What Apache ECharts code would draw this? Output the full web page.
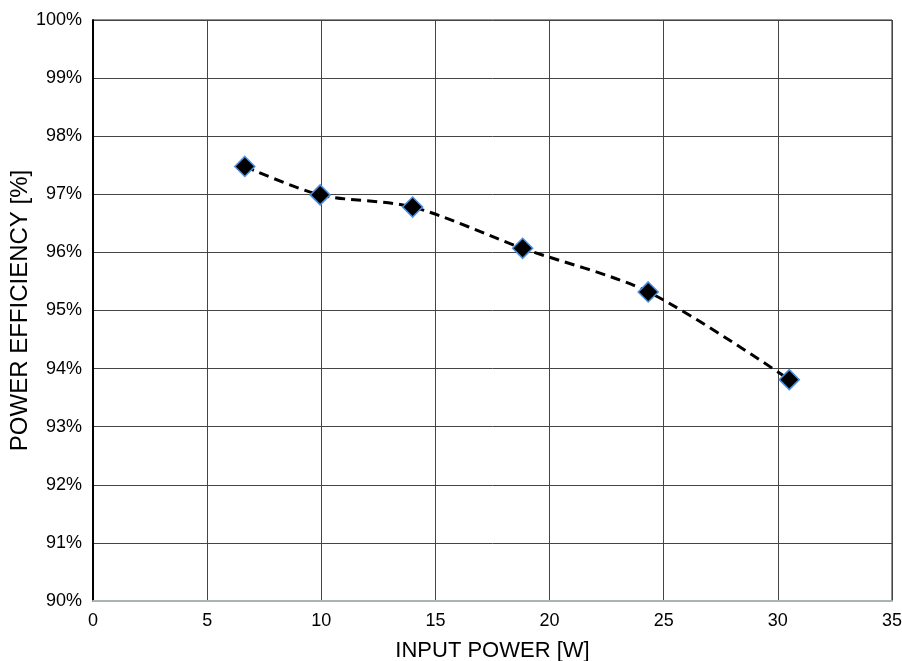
<!DOCTYPE html>
<html><head><meta charset="utf-8">
<script src="https://cdn.jsdelivr.net/npm/echarts@6/dist/echarts.min.js"></script>
<style>html,body{margin:0;padding:0;background:#fff}#c{width:902px;height:661px}</style>
</head><body><div id="c"></div>
<script>
const inputPower = [6.65, 9.95, 14.0, 18.82, 24.32, 30.5];
const efficiency = [97.48, 96.99, 96.78, 96.07, 95.32, 93.81];
const xTicks = [0, 5, 10, 15, 20, 25, 30, 35];
const yTicks = [90, 91, 92, 93, 94, 95, 96, 97, 98, 99, 100];

const chart = echarts.init(document.getElementById('c'));
const font = 'Liberation Sans, Arial, sans-serif';
chart.setOption({
  animation: false,
  grid: { left: 93, right: 10, top: 20, bottom: 60, containLabel: false, outerBoundsMode: 'none', show: true, borderColor: '#222', borderWidth: 1 },
  xAxis: {
    type: 'value', min: xTicks[0], max: xTicks[xTicks.length - 1], interval: 5,
    name: 'INPUT POWER [W]', nameLocation: 'middle', nameGap: 39, nameMoveOverlap: false,
    nameTextStyle: { fontFamily: font, fontSize: 22, color: '#000' },
    axisLine: { show: true, lineStyle: { color: '#aab4b4', width: 2 } },
    axisTick: { show: false },
    axisLabel: { fontFamily: font, fontSize: 18, color: '#000', margin: 11 },
    splitLine: { show: true, lineStyle: { color: '#444', width: 1 } }
  },
  yAxis: {
    type: 'value', min: yTicks[0], max: yTicks[yTicks.length - 1], interval: 1,
    name: 'POWER EFFICIENCY [%]', nameLocation: 'middle', nameGap: 61, nameMoveOverlap: false,
    nameTextStyle: { fontFamily: font, fontSize: 24, color: '#000' },
    axisLine: { show: true, lineStyle: { color: '#000', width: 2 } },
    axisTick: { show: false },
    axisLabel: { fontFamily: font, fontSize: 18, color: '#000', margin: 11, formatter: v => v + '%' },
    splitLine: { show: true, lineStyle: { color: '#444', width: 1 } }
  },
  series: [{
    type: 'line',
    data: inputPower.map((x, i) => [x, efficiency[i]]),
    smooth: 0.3,
    symbol: 'diamond', symbolSize: 20,
    itemStyle: { color: '#000', borderColor: '#4a90e2', borderWidth: 1.5 },
    lineStyle: { color: '#000', width: 3, type: [10, 6] }
  }]
});
</script></body></html>
